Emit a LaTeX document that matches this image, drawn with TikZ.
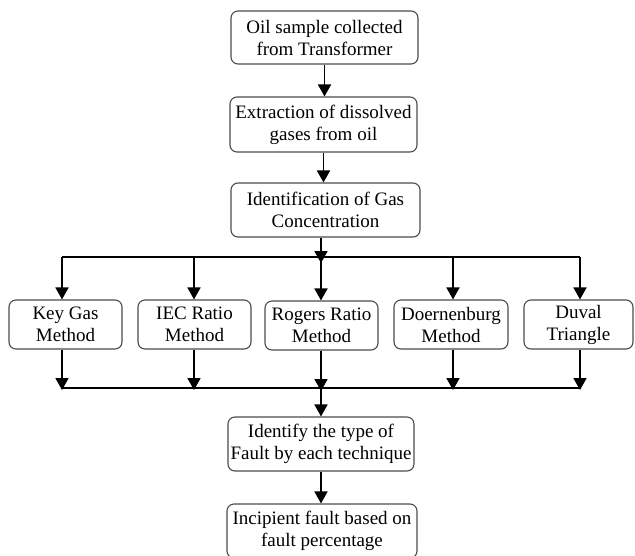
\documentclass[tikz,border=0pt]{standalone}
\usepackage{fontspec}
\setmainfont{Liberation Serif}
\usetikzlibrary{arrows.meta}
\begin{document}
\begin{tikzpicture}[x=1pt,y=-1pt,
  box/.style={draw=black!70, line width=1.1pt, rounded corners=7pt, align=center,
    font=\fontsize{19}{22}\selectfont, inner sep=0pt},
  conn/.style={line width=1.8pt, -{Triangle[length=12pt,width=13pt]}},
  ln/.style={line width=1.8pt}]
\useasboundingbox (0,0) rectangle (635,555);

% main column
\node[box, minimum width=187pt, minimum height=53pt] (b1) at (324.5,37.5) {Oil sample collected\\from Transformer};
\node[box, minimum width=187pt, minimum height=55pt] (b2) at (323.5,124.5) {Extraction of dissolved\\gases from oil};
\node[box, minimum width=189pt, minimum height=54pt] (b3) at (325.5,210) {Identification of Gas\\Concentration};

% row of methods
\node[box, minimum width=113pt, minimum height=49pt] (kg)  at (65.5,324.5)  {Key Gas\\Method};
\node[box, minimum width=113pt, minimum height=49pt] (iec) at (194.5,324.5) {IEC Ratio\\Method};
\node[box, minimum width=113pt, minimum height=49pt] (rog) at (321.5,325.5) {Rogers Ratio\\Method};
\node[box, minimum width=114pt, minimum height=49pt] (doe) at (451,324.5)   {Doernenburg\\Method};
\node[box, minimum width=109pt, minimum height=49pt] (duv) at (578.5,324.5) {Duval\\Triangle};

\node[box, minimum width=186pt, minimum height=54pt] (b5) at (321,444) {Identify the type of\\Fault by each technique};
\node[box, minimum width=190pt, minimum height=54pt] (b6) at (322,531) {Incipient fault based on\\fault percentage};

% junction coordinates
\coordinate (t1) at (62,257);
\coordinate (t2) at (194,257);
\coordinate (t3) at (321,257);
\coordinate (t4) at (453,257);
\coordinate (t5) at (580,257);
\coordinate (tj) at (321,263);
\coordinate (u1) at (62,388);
\coordinate (u2) at (194,388);
\coordinate (u3) at (321,388);
\coordinate (u4) at (453,388);
\coordinate (u5) at (580,388);

% top connectors
\draw[conn] (b1.south) -- (b1.south |- b2.north);
\draw[conn] (b2.south) -- (b2.south |- b3.north);
\draw[conn] (b3.south -| tj) -- (tj);
\draw[ln] (t1) -- (t5);
\draw[conn] (t1) -- (t1 |- kg.north);
\draw[conn] (t2) -- (t2 |- iec.north);
\draw[conn] (t3) -- (t3 |- rog.north);
\draw[conn] (t4) -- (t4 |- doe.north);
\draw[conn] (t5) -- (t5 |- duv.north);

% bottom connectors
\draw[conn] (u1 |- kg.south) -- ([yshift=-2pt]u1);
\draw[conn] (u2 |- iec.south) -- ([yshift=-2pt]u2);
\draw[conn] (u3 |- rog.south) -- ([yshift=-3pt]u3);
\draw[conn] (u4 |- doe.south) -- ([yshift=-2pt]u4);
\draw[conn] (u5 |- duv.south) -- ([yshift=-2pt]u5);
\draw[ln] (u1) -- (u5);
\draw[conn] (u3) -- (u3 |- b5.north);
\draw[conn] (b5.south) -- (b5.south |- b6.north);
\end{tikzpicture}
\end{document}
